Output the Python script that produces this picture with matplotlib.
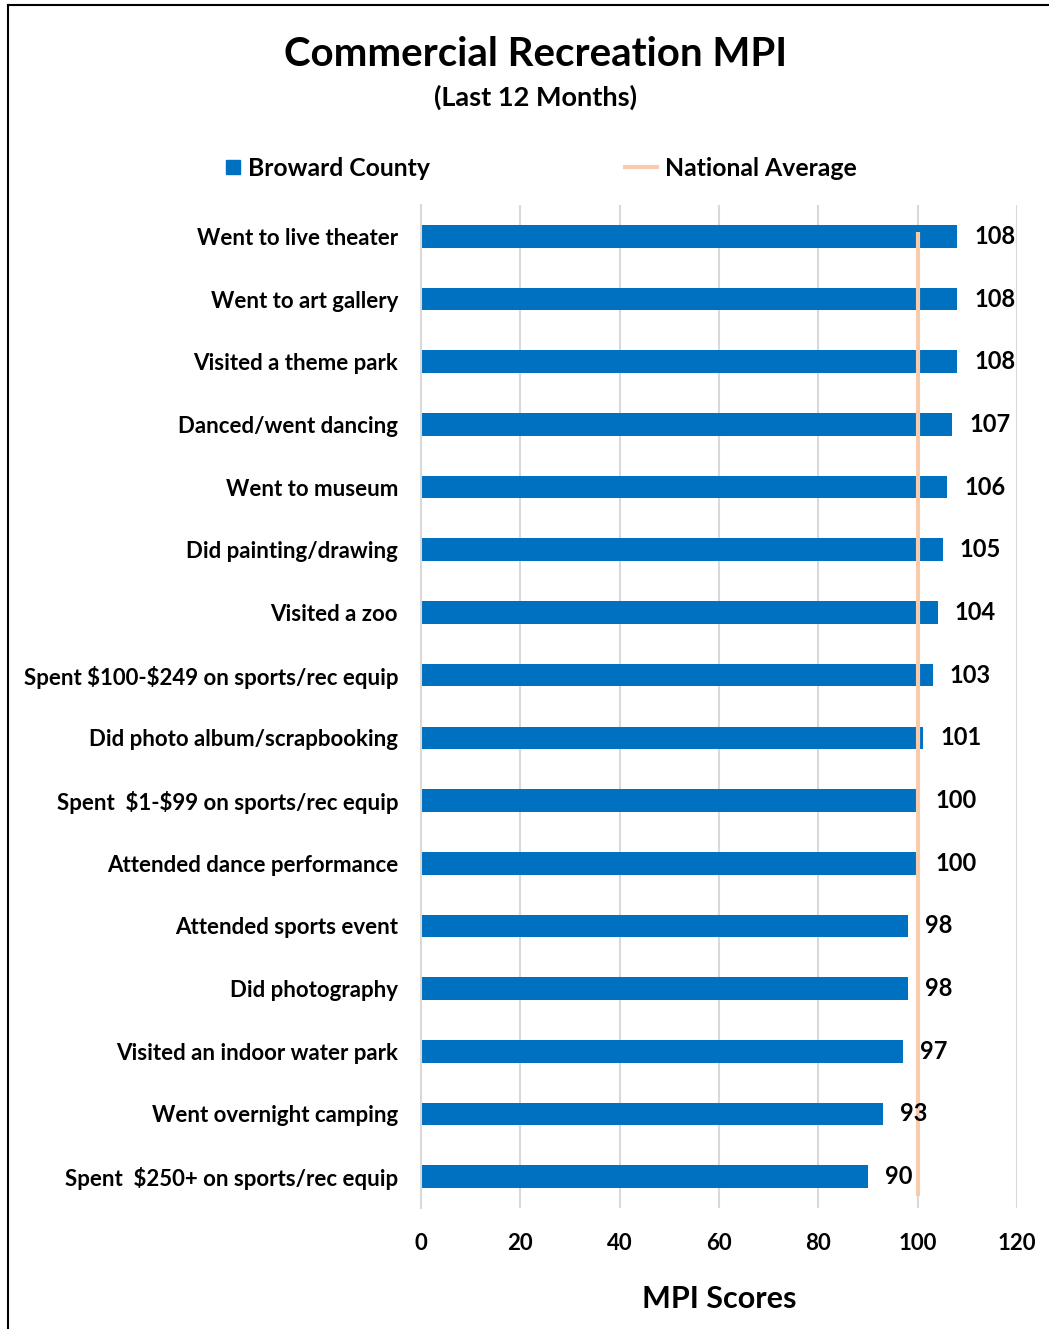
import matplotlib
matplotlib.use("Agg")
import matplotlib.pyplot as plt
from matplotlib.lines import Line2D

categories = [
    "Went to live theater",
    "Went to art gallery",
    "Visited a theme park",
    "Danced/went dancing",
    "Went to museum",
    "Did painting/drawing",
    "Visited a zoo",
    "Spent $100-$249 on sports/rec equip",
    "Did photo album/scrapbooking",
    "Spent  $1-$99 on sports/rec equip",
    "Attended dance performance",
    "Attended sports event",
    "Did photography",
    "Visited an indoor water park",
    "Went overnight camping",
    "Spent  $250+ on sports/rec equip",
]
broward = [108, 108, 108, 107, 106, 105, 104, 103, 101, 100, 100, 98, 98, 97, 93, 90]
national = [100] * len(categories)
xticks = [0, 20, 40, 60, 80, 100, 120]

plt.rcParams['font.family'] = ['Lato', 'DejaVu Sans']
plt.rcParams['text.parse_math'] = False

W, H = 1049, 1329
fig = plt.figure(figsize=(W / 100, H / 100), dpi=100)
ax = fig.add_axes([421 / W, 1 - 1208 / H, (1017 - 421) / W, (1208 - 205) / H])

bar_color = "#0070C0"
line_color = "#F8CBAD"
ypos = list(range(len(categories)))
ax.barh(ypos, broward, height=0.36, color=bar_color, zorder=2)

ax.set_xlim(0, 120)
ax.set_ylim(len(categories) - 0.5, -0.5)
ax.set_yticks(ypos)
ax.set_yticklabels(categories, fontsize=16, fontweight='bold')
ax.set_xticks(xticks)
ax.set_xticklabels([str(t) for t in xticks], fontsize=16, fontweight='bold')
ax.tick_params(axis='both', length=0)
ax.tick_params(axis='y', pad=16.5)
ax.tick_params(axis='x', pad=18)
ax.grid(axis='x', color='#D9D9D9', lw=1.5, zorder=0)
ax.set_axisbelow(True)
for s in ['top', 'right', 'bottom']:
    ax.spines[s].set_visible(False)
ax.spines['left'].set_color('#D9D9D9')
ax.spines['left'].set_linewidth(1.5)

ax.set_xlabel("MPI Scores", fontsize=22, fontweight='bold', labelpad=22)

# National average on a secondary category axis (as in the original chart)
ax2 = ax.twinx()
ax2.plot(national, ypos, color=line_color, lw=3, zorder=3, solid_capstyle='butt')
ax2.set_ylim(15.19, -0.42)
ax2.set_xlim(0, 120)
ax2.set_yticks([])
for s in ax2.spines.values():
    s.set_visible(False)

# value labels drawn on top of everything
for y, v in zip(ypos, broward):
    ax2.text(v + 3.5, y, str(v), va='center', ha='left', fontsize=17,
             fontweight='bold', color='black', zorder=5, transform=ax.transData)

fig.text(536 / W, 1 - 54 / H, "Commercial Recreation MPI", ha='center', va='center',
         fontsize=29, fontweight='bold')
fig.text(536 / W, 1 - 97 / H, "(Last 12 Months)", ha='center', va='center',
         fontsize=19.5, fontweight='bold')

leg_y = 1 - 168 / H
prop = {'size': 17.8, 'weight': 'bold'}
h1 = Line2D([0], [0], marker='s', color='none', markerfacecolor=bar_color,
            markeredgecolor=bar_color, markersize=10.5)
leg1 = fig.legend([h1], ["Broward County"], loc='center left',
                  bbox_to_anchor=(226 / W, leg_y), frameon=False, prop=prop,
                  handlelength=0.6, handletextpad=0.3, borderpad=0,
                  borderaxespad=0)
h2 = Line2D([0], [0], color=line_color, lw=3)
leg2 = fig.legend([h2], ["National Average"], loc='center left',
                  bbox_to_anchor=(625 / W, leg_y), frameon=False, prop=prop,
                  handlelength=1.3, handletextpad=0.33, borderpad=0,
                  borderaxespad=0)

# figure border (left and top)
fig.add_artist(Line2D([8 / W, 8 / W], [0, 1 - 5 / H], color='black', lw=1.5,
                      transform=fig.transFigure))
fig.add_artist(Line2D([8 / W, 1], [1 - 5 / H, 1 - 5 / H], color='black', lw=1.5,
                      transform=fig.transFigure))

fig.savefig("out.png", dpi=100, facecolor='white')
